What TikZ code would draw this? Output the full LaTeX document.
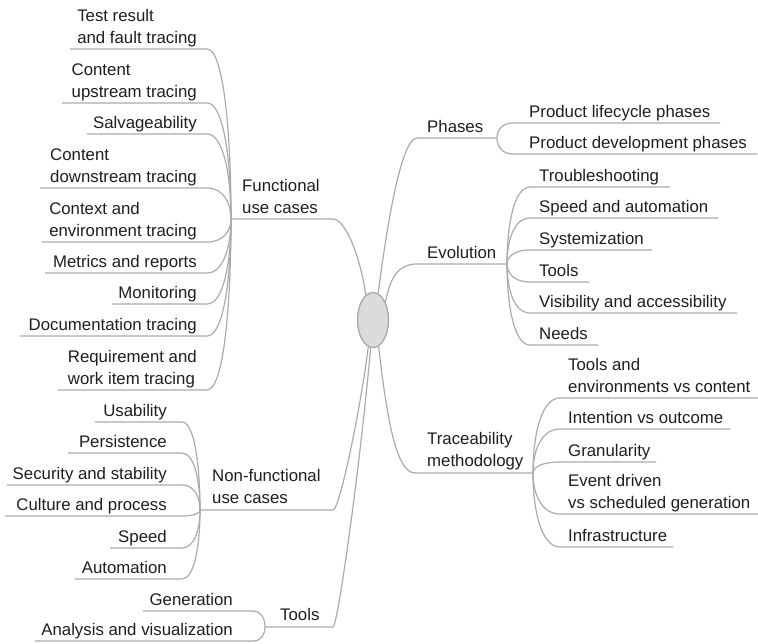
\documentclass[tikz,border=0pt]{standalone}
\usepackage{fontspec}
\setmainfont{Liberation Sans}
\usetikzlibrary{shapes.geometric,calc}
\definecolor{linegray}{HTML}{ABABAB}
\definecolor{txt}{HTML}{1E1E1E}
\definecolor{hubfill}{HTML}{DADCDB}
\definecolor{hubline}{HTML}{A4A4A4}
% multi-line label whose baseline is the baseline of its last line
\newcommand\stacked[1]{\begin{tabular}[b]{@{}l@{}}#1\end{tabular}}

\begin{document}
\begin{tikzpicture}[x=1pt,y=-1pt,
  every node/.style={font=\fontsize{16.8}{22}\selectfont, text=txt, inner sep=0pt},
  leafL/.style={anchor=base east},
  leafR/.style={anchor=base west},
  branch/.style={draw=linegray, line width=1.2pt},
  rootnode/.style={ellipse, draw=hubline, fill=hubfill, line width=1.2pt,
                   minimum width=31pt, minimum height=55pt},
  % leaves horizontally, arrives at the hub almost vertically
  hv/.style={to path={.. controls ($(\tikztostart)!0.7!(\tikztostart -| \tikztotarget)$)
                      and ($(\tikztotarget)!0.5!(\tikztotarget |- \tikztostart)$) .. (\tikztotarget)}},
  % leaves the hub almost vertically, arrives horizontally
  vh/.style={to path={.. controls ($(\tikztostart)!0.5!(\tikztostart |- \tikztotarget)$)
                      and ($(\tikztotarget)!0.7!(\tikztotarget -| \tikztostart)$) .. (\tikztotarget)}}]
\useasboundingbox (0,0) rectangle (758,643);

% central topic
\node[rootnode] (root) at (373,320) {};

% ---------------- Functional use cases ----------------
\node[leafR] (fun) at (242,213) {\stacked{Functional\\use cases}};
\coordinate (funhub) at (231,219);
\coordinate (funend) at (333,219);
\draw[branch] (funhub) -- (funend) .. controls (345,219) and (360,255) .. (root.106);

\node[leafL] (f1) at (197,43) {\stacked{Test result\\and fault tracing}};
\coordinate (f1a) at (70,49);  \coordinate (f1b) at (207,49);
\node[leafL] (f2) at (197,97) {\stacked{Content\\upstream tracing}};
\coordinate (f2a) at (62,103); \coordinate (f2b) at (207,103);
\node[leafL] (f3) at (197,128) {Salvageability};
\coordinate (f3a) at (87,134); \coordinate (f3b) at (207,134);
\node[leafL] (f4) at (197,182) {\stacked{Content\\downstream tracing}};
\coordinate (f4a) at (40,188); \coordinate (f4b) at (207,188);
\node[leafL] (f5) at (197,236) {\stacked{Context and\\environment tracing}};
\coordinate (f5a) at (42,242); \coordinate (f5b) at (207,242);
\node[leafL] (f6) at (197,267) {Metrics and reports};
\coordinate (f6a) at (45,273); \coordinate (f6b) at (207,273);
\node[leafL] (f7) at (197,298) {Monitoring};
\coordinate (f7a) at (112,304); \coordinate (f7b) at (207,304);
\node[leafL] (f8) at (197,330) {Documentation tracing};
\coordinate (f8a) at (20,336); \coordinate (f8b) at (207,336);
\node[leafL] (f9) at (197,384) {\stacked{Requirement and\\work item tracing}};
\coordinate (f9a) at (58,390); \coordinate (f9b) at (207,390);

\foreach \i in {1,...,9}
  \draw[branch] (f\i a) -- (f\i b) to[hv] (funhub);

% ---------------- Non-functional use cases ----------------
\node[leafR] (nf) at (212,503) {\stacked{Non-functional\\use cases}};
\coordinate (nfhub) at (200,510);
\coordinate (nfend) at (333,510);
\draw[branch] (nfhub) -- (nfend) .. controls (340,510) and (362,400) .. (root.-100);

\node[leafL] (n1) at (167,416) {Usability};
\coordinate (n1a) at (95,422);  \coordinate (n1b) at (182,422);
\node[leafL] (n2) at (167,447) {Persistence};
\coordinate (n2a) at (68,453);  \coordinate (n2b) at (182,453);
\node[leafL] (n3) at (167,479) {Security and stability};
\coordinate (n3a) at (7,485);   \coordinate (n3b) at (182,485);
\node[leafL] (n4) at (167,510) {Culture and process};
\coordinate (n4a) at (5,516);   \coordinate (n4b) at (182,516);
\node[leafL] (n5) at (167,542) {Speed};
\coordinate (n5a) at (110,548); \coordinate (n5b) at (182,548);
\node[leafL] (n6) at (167,573) {Automation};
\coordinate (n6a) at (75,579);  \coordinate (n6b) at (182,579);

\foreach \i in {1,...,6}
  \draw[branch] (n\i a) -- (n\i b) to[hv] (nfhub);

% ---------------- Tools ----------------
\node[leafR] (tl) at (280,620) {Tools};
\coordinate (tlhub) at (265,627);
\coordinate (tlend) at (333,627);
\draw[branch] (tlhub) -- (tlend) .. controls (338,627) and (362,450) .. (root.-95);

\node[leafL] (t1) at (233,605) {Generation};
\coordinate (t1a) at (143,611); \coordinate (t1b) at (253,611);
\node[leafL] (t2) at (233,635) {Analysis and visualization};
\coordinate (t2a) at (35,641);  \coordinate (t2b) at (253,641);
\draw[branch] (t1a) -- (t1b) to[hv] (tlhub);
\draw[branch] (t2a) -- (t2b) to[hv] (tlhub);

% ---------------- Phases ----------------
\node[leafR] (ph) at (427,132) {Phases};
\coordinate (phstart) at (417,138);
\coordinate (phhub) at (497,138);
\draw[branch] (root.79) .. controls (385,240) and (400,138) .. (phstart) -- (phhub);

\node[leafR] (p1) at (529,117) {Product lifecycle phases};
\coordinate (p1a) at (513,123); \coordinate (p1b) at (720,123);
\node[leafR] (p2) at (529,148) {Product development phases};
\coordinate (p2a) at (513,154); \coordinate (p2b) at (757,154);
\draw[branch] (phhub) to[vh] (p1a) -- (p1b);
\draw[branch] (phhub) to[vh] (p2a) -- (p2b);

% ---------------- Evolution ----------------
\node[leafR] (ev) at (427,258) {Evolution};
\coordinate (evstart) at (417,264);
\coordinate (evhub) at (507,264);
\draw[branch] (root.55) .. controls (390,278) and (398,264) .. (evstart) -- (evhub);

\node[leafR] (e1) at (539,181) {Troubleshooting};
\coordinate (e1a) at (530,187); \coordinate (e1b) at (670,187);
\node[leafR] (e2) at (539,212) {Speed and automation};
\coordinate (e2a) at (530,218); \coordinate (e2b) at (718,218);
\node[leafR] (e3) at (539,244) {Systemization};
\coordinate (e3a) at (530,250); \coordinate (e3b) at (652,250);
\node[leafR] (e4) at (539,276) {Tools};
\coordinate (e4a) at (530,282); \coordinate (e4b) at (589,282);
\node[leafR] (e5) at (539,307) {Visibility and accessibility};
\coordinate (e5a) at (530,313); \coordinate (e5b) at (737,313);
\node[leafR] (e6) at (539,339) {Needs};
\coordinate (e6a) at (530,345); \coordinate (e6b) at (598,345);

\foreach \i in {1,...,6}
  \draw[branch] (evhub) to[vh] (e\i a) -- (e\i b);

% ---------------- Traceability methodology ----------------
\node[leafR] (tm) at (427,466) {\stacked{Traceability\\methodology}};
\coordinate (tmstart) at (415,473);
\coordinate (tmhub) at (533,473);
\draw[branch] (root.-78) .. controls (386,410) and (395,473) .. (tmstart) -- (tmhub);

\node[leafR] (m1) at (568,392) {\stacked{Tools and\\environments vs content}};
\coordinate (m1a) at (560,398); \coordinate (m1b) at (758,398);
\node[leafR] (m2) at (568,423) {Intention vs outcome};
\coordinate (m2a) at (560,429); \coordinate (m2b) at (730,429);
\node[leafR] (m3) at (568,456) {Granularity};
\coordinate (m3a) at (560,462); \coordinate (m3b) at (656,462);
\node[leafR] (m4) at (568,508) {\stacked{Event driven\\vs scheduled generation}};
\coordinate (m4a) at (560,514); \coordinate (m4b) at (758,514);
\node[leafR] (m5) at (568,541) {Infrastructure};
\coordinate (m5a) at (560,547); \coordinate (m5b) at (673,547);

\foreach \i in {1,...,5}
  \draw[branch] (tmhub) to[vh] (m\i a) -- (m\i b);
\end{tikzpicture}
\end{document}
